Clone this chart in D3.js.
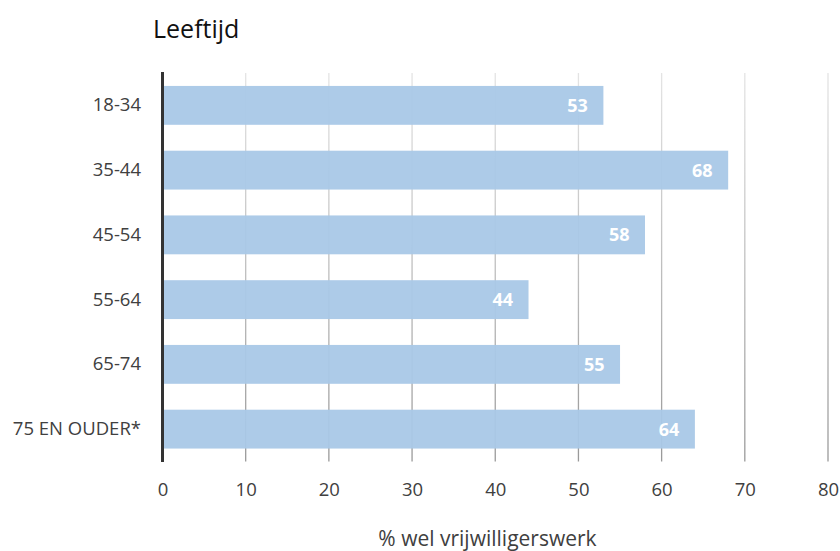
<!DOCTYPE html>
<html><head><meta charset="utf-8">
<script src="https://cdn.jsdelivr.net/npm/d3@7"></script>
<style>body{margin:0;background:#fff}</style>
</head><body>
<svg id="c" width="840" height="551"></svg>
<script>
const categories = ["18-34","35-44","45-54","55-64","65-74","75 EN OUDER*"];
const values = [53,68,58,44,55,64];
const xTicks = [0,10,20,30,40,50,60,70,80];
const title = "Leeftijd";
const xTitle = "% wel vrijwilligerswerk";

const svg = d3.select("#c");
const font = "'Open Sans', 'Noto Sans', sans-serif";
const x = d3.scaleLinear().domain([0,80]).range([162.5,828]);
const y = d3.scaleBand().domain(categories).range([73,461.5]).paddingInner(0.4).paddingOuter(0.2);

const defs = svg.append("defs");
const g = defs.append("linearGradient").attr("id","gg").attr("gradientUnits","userSpaceOnUse")
  .attr("x1",0).attr("x2",0).attr("y1",73).attr("y2",461.5);
g.append("stop").attr("offset","0").attr("stop-color","#e4e4e4");
g.append("stop").attr("offset","1").attr("stop-color","#999");

svg.append("g").selectAll("line").data(xTicks.slice(1)).join("line")
  .attr("x1",d=>x(d)).attr("x2",d=>x(d)).attr("y1",73).attr("y2",461.5)
  .attr("stroke","url(#gg)").attr("stroke-width",1.3);

svg.append("g").selectAll("rect").data(values).join("rect")
  .attr("x",x(0)).attr("y",(d,i)=>y(categories[i]))
  .attr("width",d=>x(d)-x(0)).attr("height",y.bandwidth())
  .attr("fill","#a9c8e7").attr("fill-opacity",0.95);

svg.append("g").selectAll("text").data(values).join("text")
  .attr("x",d=>x(d)-15.5).attr("y",(d,i)=>y(categories[i])+y.bandwidth()/2)
  .attr("dy","0.36em").attr("text-anchor","end")
  .attr("fill","#fff").attr("font-weight","bold").attr("font-size",18).attr("font-family",font)
  .text(d=>d);

svg.append("line").attr("x1",x(0)).attr("x2",x(0)).attr("y1",72).attr("y2",462)
  .attr("stroke","#333").attr("stroke-width",3);

const xa = svg.append("g").attr("transform","translate(0,483)")
  .call(d3.axisBottom(x).tickValues(xTicks).tickSize(0).tickPadding(0));
xa.select(".domain").remove();
xa.selectAll("text").attr("font-size",18.5).attr("font-family",font).attr("fill","#404040");

const ya = svg.append("g").attr("transform","translate(141,0)")
  .call(d3.axisLeft(y).tickSize(0).tickPadding(0));
ya.select(".domain").remove();
ya.selectAll("text").attr("font-size",18.5).attr("font-family",font).attr("fill","#404040");

svg.append("text").attr("x",153).attr("y",38).attr("font-size",25).attr("font-family",font)
  .attr("fill","#111").text(title);
svg.append("text").attr("x",487.5).attr("y",546).attr("text-anchor","middle").attr("font-size",21)
  .attr("font-family",font).attr("fill","#404040").text(xTitle);
</script>
</body></html>
